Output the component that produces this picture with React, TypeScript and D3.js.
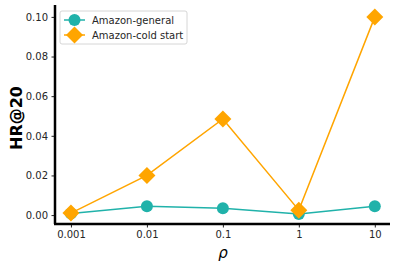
import React, { useEffect, useRef } from 'react';
import * as d3 from 'd3';

const rhoLabels = ['0.001', '0.01', '0.1', '1', '10'];
const generalValues = [0.0008, 0.0045, 0.0035, 0.0006, 0.0045];
const coldValues = [0.001, 0.02, 0.0485, 0.0025, 0.1];
const yTicks = [0, 0.02, 0.04, 0.06, 0.08, 0.1];

const App = () => {
	const ref = useRef<SVGSVGElement>(null);

	useEffect(() => {
		const svg = d3.select(ref.current);
		svg.selectAll('*').remove();
		const font = 'DejaVu Sans, sans-serif';

		const x = d3.scaleLinear().domain([-0.21, 4.2]).range([55, 390]);
		const y = d3.scaleLinear().domain([-0.0045, 0.106]).range([224, 5]);

		const teal = '#20b2aa';
		const orange = '#ffa500';

		// y axis
		const yAxis = svg.append('g')
			.attr('transform', 'translate(55,0)')
			.call(d3.axisLeft(y).tickValues(yTicks).tickFormat(d3.format('.2f')).tickSize(3.5).tickPadding(3.5));
		yAxis.select('.domain').remove();
		yAxis.selectAll('text').style('font-family', font).style('font-size', '10px').attr('fill', '#262626');
		yAxis.selectAll('line').attr('stroke', '#262626');

		const xAxis = svg.append('g')
			.attr('transform', 'translate(0,224)')
			.call(d3.axisBottom(x).tickValues(d3.range(rhoLabels.length)).tickFormat((d: any) => rhoLabels[d]).tickSize(3.5).tickPadding(3.5));
		xAxis.select('.domain').remove();
		xAxis.selectAll('text').style('font-family', font).style('font-size', '10px').attr('fill', '#262626');
		xAxis.selectAll('line').attr('stroke', '#262626');

		// spines
		svg.append('line').attr('x1', 55).attr('x2', 55).attr('y1', 5).attr('y2', 224)
			.attr('stroke', 'black').attr('stroke-width', 2.5);
		svg.append('line').attr('x1', 54).attr('x2', 390).attr('y1', 224).attr('y2', 224)
			.attr('stroke', 'black').attr('stroke-width', 2.5);

		const line = d3.line<number>().x((d, i) => x(i)).y(d => y(d));

		svg.append('path').datum(generalValues).attr('d', line)
			.attr('fill', 'none').attr('stroke', teal).attr('stroke-width', 1.5);
		svg.selectAll('.gdot').data(generalValues).enter().append('circle')
			.attr('cx', (d, i) => x(i)).attr('cy', d => y(d)).attr('r', 6).attr('fill', teal);

		const diamond = (cx: number, cy: number, r: number) =>
			`M${cx},${cy - r}L${cx + r},${cy}L${cx},${cy + r}L${cx - r},${cy}Z`;

		svg.append('path').datum(coldValues).attr('d', line)
			.attr('fill', 'none').attr('stroke', orange).attr('stroke-width', 1.5);
		svg.selectAll('.cdot').data(coldValues).enter().append('path')
			.attr('d', (d, i) => diamond(x(i), y(d), 8.5)).attr('fill', orange);

		// legend
		const lg = svg.append('g');
		lg.append('rect').attr('x', 60).attr('y', 11).attr('width', 127).attr('height', 33)
			.attr('rx', 2).attr('fill', 'white').attr('fill-opacity', 0.8).attr('stroke', '#cccccc').attr('stroke-width', 0.8);
		const items = [
			{ name: 'Amazon-general', color: teal, shape: 'circle' },
			{ name: 'Amazon-cold start', color: orange, shape: 'diamond' },
		];
		items.forEach((it, i) => {
			const cy = 20 + i * 15;
			lg.append('line').attr('x1', 64).attr('x2', 85).attr('y1', cy).attr('y2', cy)
				.attr('stroke', it.color).attr('stroke-width', 1.5);
			if (it.shape === 'circle') {
				lg.append('circle').attr('cx', 74.5).attr('cy', cy).attr('r', 6).attr('fill', it.color);
			} else {
				lg.append('path').attr('d', diamond(74.5, cy, 8.5)).attr('fill', it.color);
			}
			lg.append('text').attr('x', 92).attr('y', cy + 3.5).text(it.name)
				.style('font-family', font).style('font-size', '10px').attr('fill', '#262626');
		});

		// axis labels
		svg.append('text').attr('transform', 'translate(22,118) rotate(-90)')
			.attr('text-anchor', 'middle').text('HR@20')
			.style('font-family', font).style('font-size', '16px').style('font-weight', 'bold');
		svg.append('text').attr('x', 223).attr('y', 258).attr('text-anchor', 'middle').text('ρ')
			.style('font-family', font).style('font-size', '15px').style('font-style', 'italic');
	}, []);

	return (
		<div style={{ position: 'absolute', left: 0, top: 0 }}>
			<svg ref={ref} width={397} height={268}></svg>
		</div>
	);
};

export default App;
